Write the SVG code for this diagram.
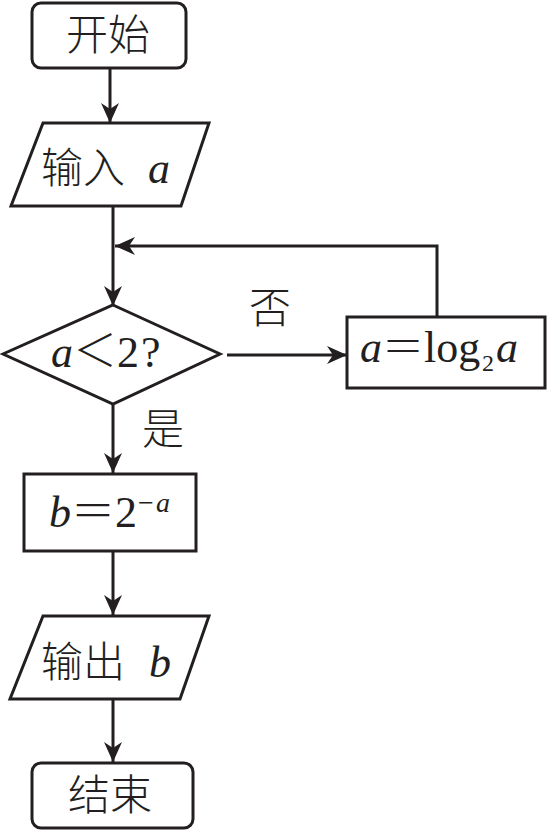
<svg xmlns="http://www.w3.org/2000/svg" width="548" height="833" viewBox="0 0 548 833">
<style>
.shape{fill:#fff;stroke:#231f20;stroke-width:3}
.line{fill:none;stroke:#231f20;stroke-width:3}
.cjk{font-family:"Noto Sans CJK SC","Noto Sans CJK JP",sans-serif;font-weight:300;font-size:42px;fill:#231f20}
.m{font-family:"Liberation Serif",serif;font-size:44px;fill:#231f20}
.op{font-family:"Noto Sans CJK SC","Noto Sans CJK JP",sans-serif;font-weight:300}
.i{font-style:italic}
</style>
<defs>
<marker id="ah" viewBox="0 0 20 18" refX="20" refY="9" markerWidth="20" markerHeight="18" markerUnits="userSpaceOnUse" orient="auto">
<path d="M0,0 L20,9 L0,18 L6,9 Z" fill="#231f20"/>
</marker>
</defs>
<g id="connectors">
<line class="line" x1="110" y1="68" x2="110" y2="123" marker-end="url(#ah)"/>
<line class="line" x1="113" y1="206" x2="113" y2="306" marker-end="url(#ah)"/>
<polyline class="line" points="437,317 437,246 115,246" marker-end="url(#ah)"/>
<line class="line" x1="227" y1="355" x2="347" y2="355" marker-end="url(#ah)"/>
<line class="line" x1="113" y1="405" x2="113" y2="473" marker-end="url(#ah)"/>
<line class="line" x1="113" y1="551" x2="113" y2="615" marker-end="url(#ah)"/>
<line class="line" x1="113" y1="699" x2="113" y2="762" marker-end="url(#ah)"/>
<text class="cjk" x="249" y="323">否</text>
<text class="cjk" x="142" y="444">是</text>
</g>
<g id="start">
<rect class="shape" x="32" y="3" width="154" height="65" rx="9"/>
<text class="cjk" x="66" y="50">开始</text>
</g>
<g id="input">
<polygon class="shape" points="43,123 209,123 181,206 11,206"/>
<text x="41" y="183"><tspan class="cjk">输入</tspan><tspan class="m i" x="148">a</tspan></text>
</g>
<g id="decision">
<polygon class="shape" points="113,305 220,354 113,404 3,354"/>
<text class="m" y="367"><tspan class="i" x="51">a</tspan><tspan class="op" x="73" font-size="44">＜</tspan><tspan x="117">2</tspan><tspan x="141">?</tspan></text>
</g>
<g id="update">
<rect class="shape" x="347" y="317" width="198" height="71"/>
<text class="m" y="362"><tspan class="i" x="360">a</tspan><tspan class="op" x="382" font-size="42">＝</tspan><tspan x="424">log</tspan><tspan x="482" font-size="24" dy="9">2</tspan><tspan class="i" x="496" dy="-9">a</tspan></text>
</g>
<g id="assign">
<rect class="shape" x="24" y="474" width="172" height="77"/>
<text class="m" y="527"><tspan class="i" x="49">b</tspan><tspan class="op" x="71" font-size="44">＝</tspan><tspan x="115">2</tspan><tspan x="138" font-size="28" dy="-15">−</tspan><tspan class="i" x="156" font-size="28">a</tspan></text>
</g>
<g id="output">
<polygon class="shape" points="43,616 209,616 180,699 10,699"/>
<text x="41" y="677"><tspan class="cjk">输出</tspan><tspan class="m i" x="149">b</tspan></text>
</g>
<g id="end">
<rect class="shape" x="32" y="763" width="161" height="65" rx="9"/>
<text class="cjk" x="68" y="810">结束</text>
</g>
</svg>
